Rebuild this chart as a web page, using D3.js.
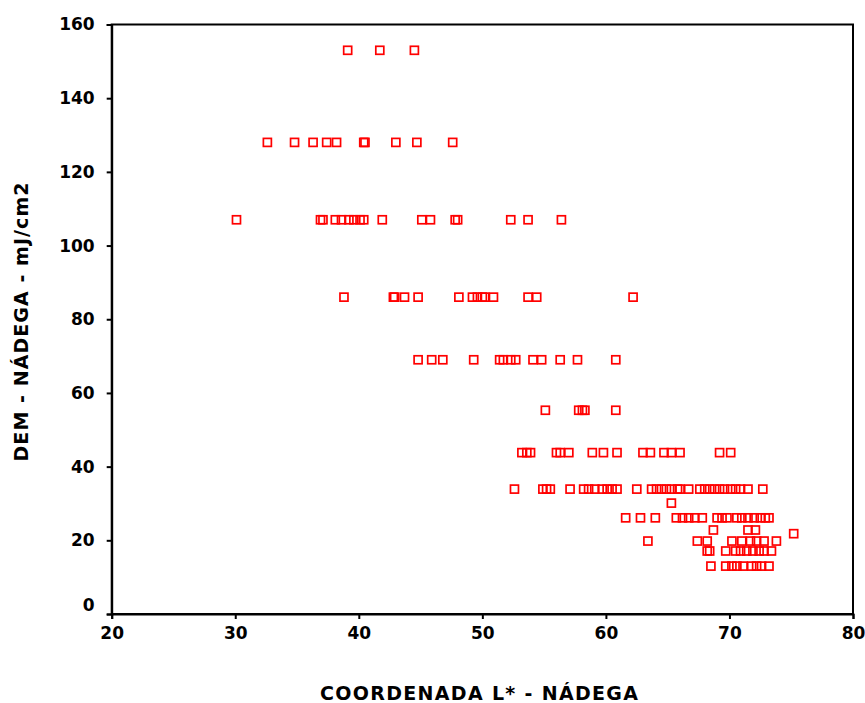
<!DOCTYPE html>
<html>
<head>
<meta charset="utf-8">
<script src="https://cdn.jsdelivr.net/npm/d3@7"></script>
<style>
  body { margin: 0; background: #fff; }
  text { font-family: "DejaVu Sans", sans-serif; font-weight: bold; }
</style>
</head>
<body>
<div id="chart"></div>
<script>
// DEM levels (mJ/cm2) and the L* values read at each level
const xTicks = [20, 30, 40, 50, 60, 70, 80]
const yTicks = [0, 20, 40, 60, 80, 100, 120, 140, 160]

const l153 = [39.1, 41.7, 44.5]
const l128 = [32.6, 34.8, 36.3, 37.4, 38.2, 40.4, 40.5, 43.0, 44.7, 47.6]
const l107 = [30.1, 36.9, 37.1, 38.1, 38.6, 39.2, 39.6, 40.1, 40.4, 41.9, 45.1, 45.8, 47.8, 48.0, 52.3, 53.7, 56.4]
const l86 = [38.8, 42.8, 42.9, 43.7, 44.8, 48.1, 49.2, 49.6, 50.0, 50.2, 50.9, 53.7, 54.4, 62.2]
const l69 = [44.8, 45.9, 46.8, 49.3, 51.4, 51.7, 52.3, 52.7, 54.1, 54.8, 56.3, 57.7, 60.8]
const l55 = [55.1, 57.8, 58.1, 58.3, 60.8]
const l44 = [53.2, 53.6, 53.9, 56.0, 56.3, 57.0, 58.9, 59.8, 60.9, 63.0, 63.6, 64.7, 65.3, 66.0, 69.2, 70.1]
const l34 = [52.6, 54.9, 55.2, 55.5, 57.1, 58.2, 58.6, 59.1, 59.7, 60.1, 60.5, 60.9, 62.5, 63.7, 64.1, 64.5, 64.9,
  65.3, 65.8, 66.0, 66.7, 67.6, 68.0, 68.4, 68.8, 69.2, 69.6, 70.1, 70.5, 70.9, 71.5, 72.7]
const l30 = [65.3]
const l26 = [61.6, 62.8, 64.0, 65.7, 66.2, 66.7, 67.2, 67.8, 69.0, 69.4, 69.8, 70.6, 71.0, 71.5, 72.0, 72.5, 72.9, 73.2]
const l23 = [68.7, 71.5, 72.1]
const l22 = [75.2]
const l20 = [63.4, 67.4, 68.2, 70.2, 71.0, 71.7, 72.2, 72.8, 73.8]
const l17 = [68.2, 68.4, 69.7, 70.5, 70.9, 71.4, 71.9, 72.4, 72.8, 73.4]
const l13 = [68.5, 69.7, 70.2, 70.6, 71.1, 71.8, 72.2, 72.6, 73.2]

const rows = [
  [153, l153], [128, l128], [107, l107], [86, l86], [69, l69], [55.3, l55], [43.8, l44],
  [33.9, l34], [30.1, l30], [26.1, l26], [22.8, l23], [21.8, l22], [19.8, l20], [17.1, l17], [13, l13]
]
const data = []
rows.forEach(([dem, ls]) => ls.forEach(l => data.push({ l: l, dem: dem })))

const width = 865
const height = 703
const mLeft = 111.7, mRight = 853, mTop = 24.5, mBottom = 614

let xScale = d3.scaleLinear([20, 80], [mLeft, mRight])
let yScale = d3.scaleLinear([0, 160], [mBottom, mTop])

let svg = d3.select('#chart').append('svg')
  .attr('width', width)
  .attr('height', height)

// frame
svg.append('rect')
  .attr('x', mLeft).attr('y', mTop)
  .attr('width', mRight - mLeft).attr('height', mBottom - mTop)
  .attr('fill', 'none').attr('stroke', '#000').attr('stroke-width', 2)

// axes
let gx = svg.append('g').attr('transform', `translate(0,${mBottom})`)
  .call(d3.axisBottom(xScale).tickValues(xTicks).tickSize(5).tickPadding(8))
let gy = svg.append('g').attr('transform', `translate(${mLeft},0)`)
  .call(d3.axisLeft(yScale).tickValues(yTicks).tickSize(5).tickPadding(12))

;[gx, gy].forEach(g => {
  g.select('.domain').attr('stroke-width', 2)
  g.selectAll('.tick line').attr('stroke-width', 2)
  g.selectAll('.tick text').attr('font-size', 17).attr('font-family', '"DejaVu Sans", sans-serif')
    .attr('font-weight', 'bold').attr('fill', '#000')
})
gy.selectAll('.tick text').filter(d => d === 0).attr('dy', '-0.2em')

// points
svg.append('g').selectAll('rect').data(data).enter().append('rect')
  .attr('x', d => xScale(d.l) - 4)
  .attr('y', d => yScale(d.dem) - 4)
  .attr('width', 8)
  .attr('height', 8)
  .attr('fill', 'none')
  .attr('stroke', '#ff0000')
  .attr('stroke-width', 1.7)

// titles
svg.append('text')
  .attr('x', 479).attr('y', 700)
  .attr('text-anchor', 'middle')
  .attr('font-size', 19)
  .attr('textLength', 318)
  .text('COORDENADA L* - NÁDEGA')

svg.append('text')
  .attr('transform', `translate(28,322) rotate(-90)`)
  .attr('text-anchor', 'middle')
  .attr('font-size', 19)
  .attr('textLength', 279)
  .text('DEM - NÁDEGA - mJ/cm2')
</script>
</body>
</html>
